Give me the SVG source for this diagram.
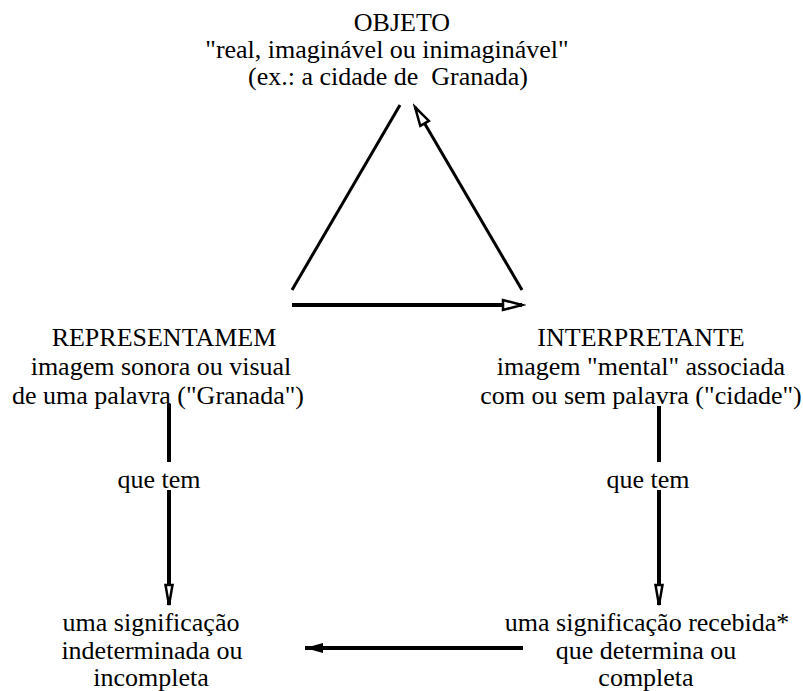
<svg xmlns="http://www.w3.org/2000/svg" width="803" height="691" viewBox="0 0 803 691">
  <style>
    text { font-family: "Liberation Serif", "Times New Roman", serif; font-size: 26px; fill: #000; text-anchor: middle; }
    .edge { stroke: #000; fill: none; stroke-linecap: butt; }
    .thin { stroke-width: 3; }
    .thick { stroke-width: 4; }
  </style>
  <defs>
    <marker id="openHead" markerUnits="userSpaceOnUse" viewBox="-24 -8 28 16" refX="0" refY="0" markerWidth="28" markerHeight="16" orient="auto">
      <path d="M0,0 L-19,-5 L-19,5 Z" fill="#fff" stroke="#000" stroke-width="2.5" stroke-linejoin="miter"/>
    </marker>
    <marker id="narrowHead" markerUnits="userSpaceOnUse" viewBox="-24 -8 28 16" refX="0" refY="0" markerWidth="28" markerHeight="16" orient="auto">
      <path d="M0,0 L-20,-3.5 L-20,3.5 Z" fill="#fff" stroke="#000" stroke-width="2.5" stroke-linejoin="miter"/>
    </marker>
    <marker id="solidHead" markerUnits="userSpaceOnUse" viewBox="-24 -8 28 16" refX="0" refY="0" markerWidth="28" markerHeight="16" orient="auto">
      <path d="M0,0 L-18,-5 L-18,5 Z" fill="#000"/>
    </marker>
  </defs>

  <g id="connectors">
    <!-- triangle of the sign -->
    <line class="edge thin" x1="292" y1="290" x2="400" y2="105"/>
    <line class="edge thin" x1="522" y1="290" x2="415" y2="107" marker-end="url(#openHead)"/>
    <line class="edge thick" x1="292" y1="305" x2="522" y2="305" marker-end="url(#openHead)"/>
    <!-- left column -->
    <line class="edge thick" x1="169" y1="404" x2="169" y2="462"/>
    <line class="edge thick" x1="169" y1="490" x2="169" y2="605" marker-end="url(#narrowHead)"/>
    <!-- right column -->
    <line class="edge thick" x1="659" y1="406" x2="659" y2="462"/>
    <line class="edge thick" x1="659" y1="490" x2="659" y2="605" marker-end="url(#narrowHead)"/>
    <!-- bottom link -->
    <line class="edge thick" x1="523" y1="648" x2="305" y2="648" marker-end="url(#solidHead)"/>
    <text x="159" y="488">que tem</text>
    <text x="648" y="488">que tem</text>
  </g>

  <g id="objeto">
    <text x="402" y="31">OBJETO</text>
    <text x="387" y="58">"real, imaginável ou inimaginável"</text>
    <text x="388" y="85">(ex.: a cidade de&#160; Granada)</text>
  </g>

  <g id="representamem">
    <text x="164" y="346">REPRESENTAMEM</text>
    <text x="161" y="375">imagem sonora ou visual</text>
    <text x="158" y="404">de uma palavra ("Granada")</text>
  </g>

  <g id="interpretante">
    <text x="641" y="346">INTERPRETANTE</text>
    <text x="641" y="375">imagem "mental" associada</text>
    <text x="641" y="404">com ou sem palavra ("cidade")</text>
  </g>

  <g id="significacao-indeterminada">
    <text x="151" y="631">uma significação</text>
    <text x="152" y="659">indeterminada ou</text>
    <text x="151" y="686">incompleta</text>
  </g>

  <g id="significacao-recebida">
    <text x="647" y="631">uma significação recebida*</text>
    <text x="646" y="659">que determina ou</text>
    <text x="646" y="686">completa</text>
  </g>
</svg>
